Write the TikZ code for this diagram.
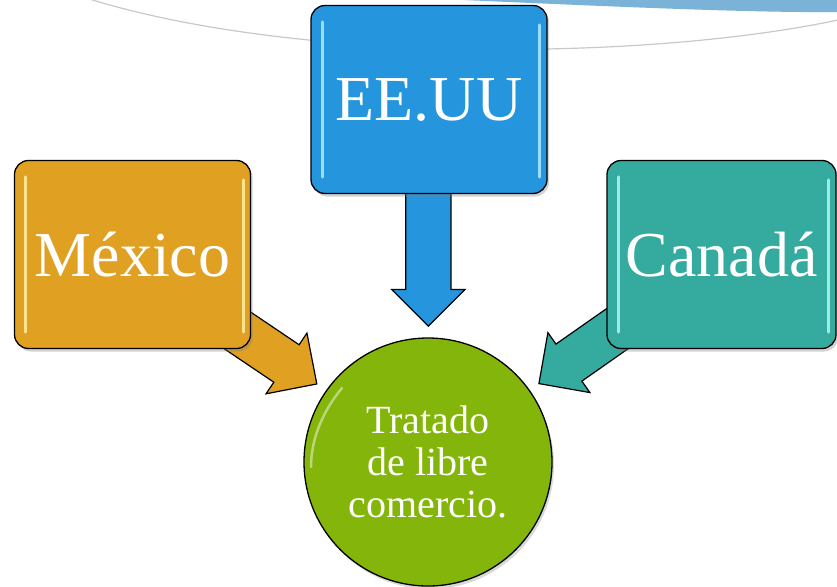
\documentclass[tikz,border=0pt]{standalone}
\usepackage{fontspec}
\setmainfont{Liberation Serif}
\usetikzlibrary{shapes.arrows,shadows,calc}

\definecolor{mexorange}{HTML}{E0A022}
\definecolor{mexlight}{HTML}{FFEC9A}
\definecolor{eeuublue}{HTML}{2596DE}
\definecolor{eeuulight}{HTML}{A6E6FF}
\definecolor{canteal}{HTML}{35AA9F}
\definecolor{canlight}{HTML}{A8F4EE}
\definecolor{tlcgreen}{HTML}{84B50A}
\definecolor{bandblue}{HTML}{7AB2D8}
\definecolor{arcgray}{HTML}{C8C8C8}

\pgfdeclarelayer{back}
\pgfsetlayers{back,main}

\begin{document}
\begin{tikzpicture}[
        x=1pt, y=-1pt,
        country/.style={draw, rounded corners=14pt, line width=1.3pt, text=white,
            minimum width=236pt, minimum height=188pt,
            font=\fontsize{64}{70}\selectfont,
            drop shadow={opacity=0.35, shadow xshift=2pt, shadow yshift=-3pt}},
        treaty/.style={draw, circle, line width=1.3pt, fill=tlcgreen, text=white,
            minimum size=248pt, align=center, font=\fontsize{40}{42}\selectfont,
            drop shadow={opacity=0.3, shadow xshift=2pt, shadow yshift=-3pt}},
        fatarrow/.style={single arrow, draw, line width=1.2pt, inner xsep=0pt, inner ysep=22pt,
            minimum height=150pt, single arrow head extend=14pt, single arrow tip angle=90,
            anchor=tip},
        gloss/.style={line width=3pt, line cap=round, opacity=0.9}
    ]
    \useasboundingbox (0,0) rectangle (837,586);

    % Nodes
    \node[country, fill=mexorange] (mexico) at (132.5,254.5) {México};
    \node[country, fill=eeuublue] (eeuu) at (429,99.5) {EE.UU};
    \node[country, fill=canteal, minimum width=229pt] (canada) at (721.5,254.5) {Canadá};
    \node[treaty] (tlc) at (428,462) {Tratado\\de libre\\comercio.};

    % Highlights
    \foreach \n/\c in {mexico/mexlight, eeuu/eeuulight, canada/canlight} {
        \draw[gloss, \c] ([xshift=12pt,yshift=-17pt]\n.north west) -- ([xshift=12pt,yshift=17pt]\n.south west);
        \draw[gloss, \c] ([xshift=-8pt,yshift=-20pt]\n.north east) -- ([xshift=-8pt,yshift=17pt]\n.south east);
    }
    \draw[white, opacity=0.45, line width=2.5pt, line cap=round]
        ($(tlc.center)+(-86,-74)$) .. controls ($(tlc.center)+(-106,-50)$) and ($(tlc.center)+(-117,-22)$) .. ($(tlc.center)+(-117,5)$);

    % Arrows and background
    \begin{pgfonlayer}{back}
        \fill[bandblue] (440,-1) .. controls (600,6) and (750,13) .. (838,12) -- (838,-1) -- cycle;
        \draw[arcgray, line width=1.2pt] (86,-2) .. controls (300,65) and (650,60) .. (838,20);
        \node[fatarrow, fill=mexorange, rotate=-34] (mexarrow) at ($(tlc.center)!135pt!(mexico.center)$) {};
        \node[fatarrow, fill=eeuublue, rotate=-90] (eeuuarrow) at ($(tlc.center)!135pt!(eeuu.center)$) {};
        \node[fatarrow, fill=canteal, rotate=-145] (canarrow) at ($(tlc.center)!135pt!(canada.center)$) {};
    \end{pgfonlayer}

\end{tikzpicture}
\end{document}
